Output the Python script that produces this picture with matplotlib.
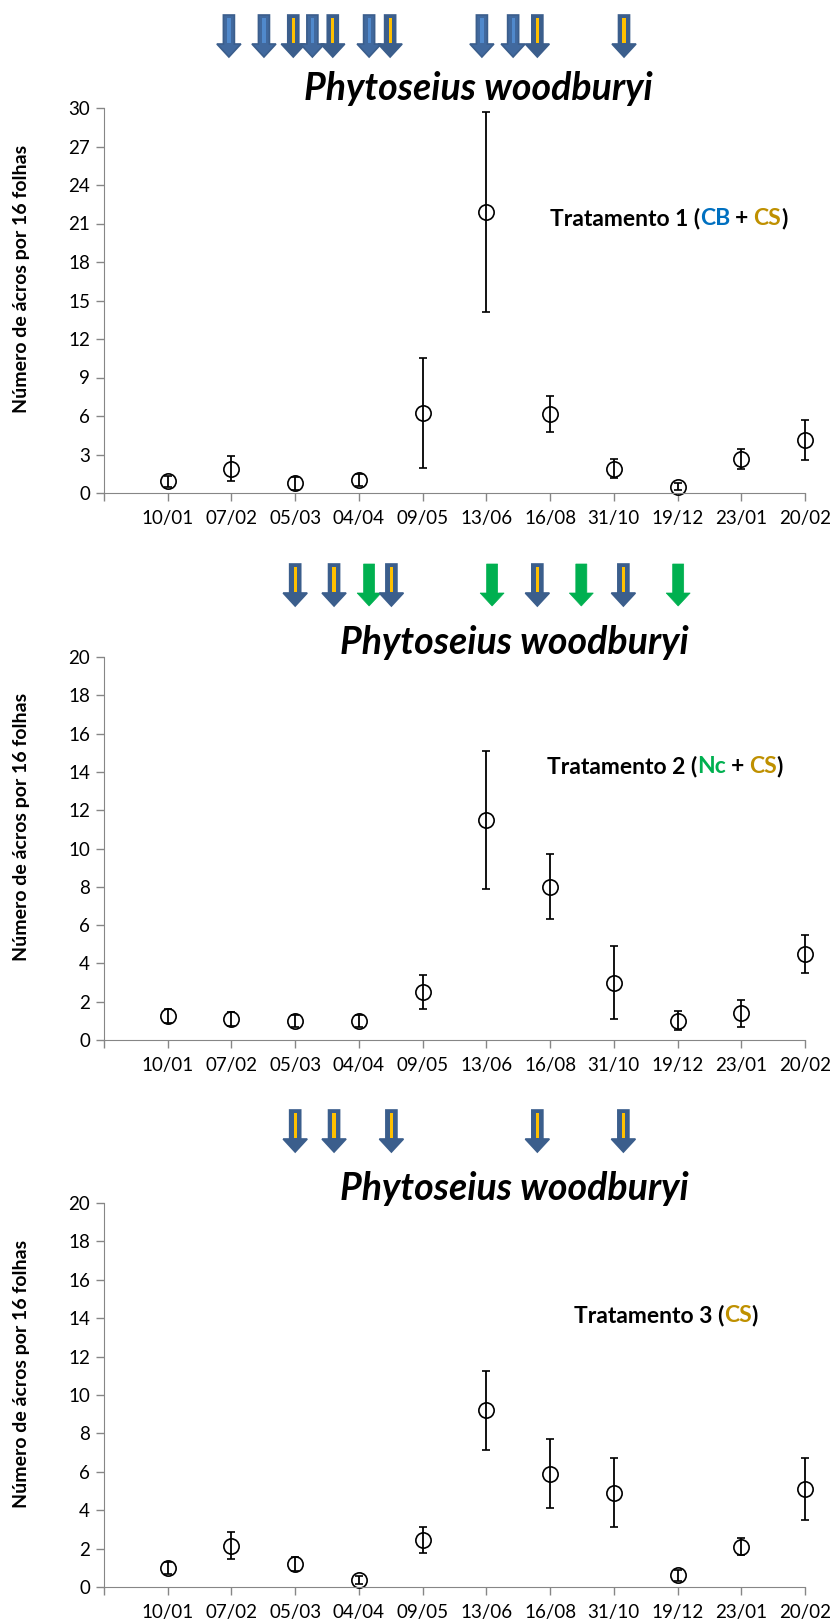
import matplotlib.pyplot as plt
from matplotlib.patches import Polygon
import numpy as np

plt.rcParams['font.family'] = ['Lato', 'DejaVu Sans']

# datas de amostragem
datas = ['10/01', '07/02', '05/03', '04/04', '09/05', '13/06',
         '16/08', '31/10', '19/12', '23/01', '20/02']

# Tratamento 1 (CB + CS)
t1_media = [0.9, 1.9, 0.75, 1.0, 6.25, 21.9, 6.15, 1.9, 0.5, 2.65, 4.15]
t1_erro = [0.4, 1.0, 0.5, 0.45, 4.3, 7.8, 1.4, 0.75, 0.3, 0.8, 1.55]

# Tratamento 2 (Nc + CS)
t2_media = [1.25, 1.1, 1.0, 1.0, 2.5, 11.5, 8.0, 3.0, 1.0, 1.4, 4.5]
t2_erro = [0.35, 0.35, 0.3, 0.3, 0.9, 3.6, 1.7, 1.9, 0.5, 0.7, 1.0]

# Tratamento 3 (CS)
t3_media = [1.0, 2.15, 1.2, 0.35, 2.45, 9.2, 5.9, 4.9, 0.6, 2.1, 5.1]
t3_erro = [0.3, 0.7, 0.35, 0.2, 0.7, 2.05, 1.8, 1.8, 0.3, 0.45, 1.6]

# setas de aplicacao (posicao no eixo x e tipo)
setas1_x = [1.96, 2.51, 2.97, 3.27, 3.59, 4.16, 4.49, 5.93, 6.42, 6.80, 8.16]
setas1_tipo = ['CB', 'CB', 'CS', 'CB', 'CS', 'CB', 'CS', 'CB', 'CB', 'CS', 'CS']
setas2_x = [3.0, 3.61, 4.16, 4.51, 6.09, 6.80, 7.49, 8.15, 9.01]
setas2_tipo = ['CS', 'CS', 'Nc', 'CS', 'Nc', 'CS', 'Nc', 'CS', 'Nc']
setas3_x = [3.0, 3.61, 4.51, 6.80, 8.15]
setas3_tipo = ['CS', 'CS', 'CS', 'CS', 'CS']

W, H = 831, 1623
fig = plt.figure(figsize=(W / 100, H / 100), dpi=100)

azul = '#3B5E8C'
azul_claro = '#5089CC'
amarelo = '#FFC000'
verde = '#00B050'
cor_cb = '#0070C0'
cor_cs = '#BF9000'


def seta(ax, x, tipo):
    px = ax.transData.transform((x, 0))[0]
    top = ax.transAxes.transform((0, 1))[1] + 93
    sw, hw, hl, L = 5.5, 12, 13, 42
    pts = [(px - sw, top), (px + sw, top), (px + sw, top - L + hl),
           (px + hw, top - L + hl), (px, top - L), (px - hw, top - L + hl),
           (px - sw, top - L + hl)]
    pts = [(a / W, b / H) for a, b in pts]
    if tipo == 'Nc':
        fig.add_artist(Polygon(pts, closed=True, fc=verde, ec=verde, lw=0.5,
                               transform=fig.transFigure))
        return
    fig.add_artist(Polygon(pts, closed=True, fc=azul if tipo == 'CS' else '#41699E',
                           ec=azul, lw=1.2, transform=fig.transFigure))
    faixa = amarelo if tipo == 'CS' else azul_claro
    s = [(px - 1.6, top - 3), (px + 1.6, top - 3), (px + 1.6, top - L + hl + 1),
         (px - 1.6, top - L + hl + 1)]
    s = [(a / W, b / H) for a, b in s]
    fig.add_artist(Polygon(s, closed=True, fc=faixa, ec='none',
                           transform=fig.transFigure))


def painel(bottom, height, media, erro, ymax, ystep, tit_x, tit_y,
           leg_x, leg_y, partes, setas_x, setas_tipo):
    ax = fig.add_axes([104 / W, bottom, 701 / W, height])
    x = np.arange(1, len(datas) + 1)
    ax.errorbar(x, media, yerr=erro, fmt='o', mfc='none', mec='black',
                ms=11, mew=1.2, ecolor='black', elinewidth=1.3,
                capsize=3, capthick=1.3, clip_on=False)
    ax.set_xlim(0, 11)
    ax.set_ylim(0, ymax)
    ax.set_xticks(np.arange(0, 12))
    ax.set_xticklabels([''] + datas)
    ax.set_yticks(np.arange(0, ymax + 0.1, ystep))
    for s in ['top', 'right']:
        ax.spines[s].set_visible(False)
    for s in ['left', 'bottom']:
        ax.spines[s].set_color('#868686')
    ax.tick_params(color='#868686', length=6, width=1, labelsize=13.5, pad=4)
    ax.tick_params(axis='x', pad=6)
    ax.set_ylabel('Número de ácros por 16 folhas', fontsize=14,
                  fontweight='bold')
    ax.yaxis.set_label_coords(-0.106, 0.555)
    ax.text(tit_x, tit_y, 'Phytoseius woodburyi', transform=ax.transAxes,
            ha='center', va='center', fontsize=27, fontweight='bold',
            fontstyle='italic')
    t = ax.text(leg_x, leg_y, partes[0][0], transform=ax.transAxes,
                va='center', ha='left', fontsize=16.5, fontweight='bold',
                color=partes[0][1])
    for txt, cor, esp in partes[1:]:
        t = ax.annotate(txt, xy=(1, 0), xycoords=t, xytext=(esp, 0),
                        textcoords='offset points', va='bottom', ha='left',
                        fontsize=16.5, fontweight='bold', color=cor)
    for sx, st in zip(setas_x, setas_tipo):
        seta(ax, sx, st)
    return ax


painel(1 - 493 / H, 385 / H, t1_media, t1_erro, 30, 3, 0.534, 1 + 20 / 385,
       0.636, 0.714,
       [('Tratamento 1 (', 'black', 0), ('CB', cor_cb, 0), ('+', 'black', 3.5),
        ('CS', cor_cs, 3.5), (')', 'black', 0)],
       setas1_x, setas1_tipo)
painel(1 - 1040 / H, 383 / H, t2_media, t2_erro, 20, 2, 0.585, 1 + 15 / 383,
       0.632, 0.715,
       [('Tratamento 2 (', 'black', 0), ('Nc', verde, 0), ('+', 'black', 3.5),
        ('CS', cor_cs, 3.5), (')', 'black', 0)],
       setas2_x, setas2_tipo)
painel(1 - 1587 / H, 384 / H, t3_media, t3_erro, 20, 2, 0.585, 1 + 14 / 384,
       0.670, 0.708,
       [('Tratamento 3 (', 'black', 0), ('CS', cor_cs, 0), (')', 'black', 0)],
       setas3_x, setas3_tipo)

fig.savefig('out.png', dpi=100)
